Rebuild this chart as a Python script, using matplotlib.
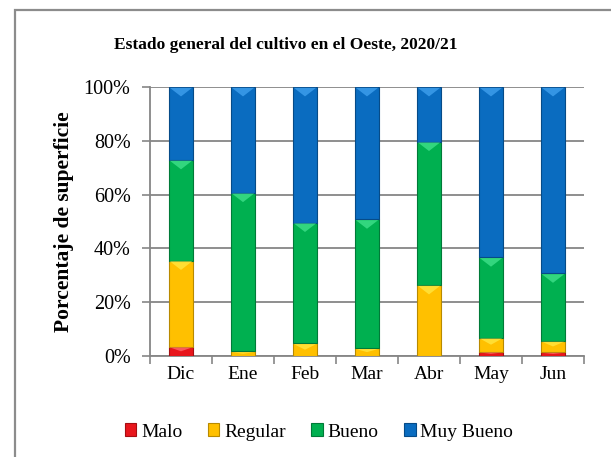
import matplotlib.pyplot as plt
import matplotlib.patches as mpatches
import numpy as np
from matplotlib.ticker import FuncFormatter, FixedLocator

meses = ["Dic", "Ene", "Feb", "Mar", "Abr", "May", "Jun"]
malo = [3.5, 0, 0, 0, 0, 1.6, 1.5]
regular = [32, 1.7, 4.7, 2.9, 26.4, 5.2, 4.1]
bueno = [37.4, 59, 44.9, 47.9, 53.3, 29.9, 25.1]
muy_bueno = [27.1, 39.3, 50.4, 49.2, 20.3, 63.3, 69.3]

series = ["Malo", "Regular", "Bueno", "Muy Bueno"]
colores = ["#E8161C", "#FFC000", "#00B050", "#0A6CC0"]
bordes = ["#A50E12", "#B88A00", "#007A38", "#064B88"]
brillos = ["#FF6A6A", "#FFE640", "#3FE08A", "#3FA0EE"]

plt.rcParams["font.family"] = ["Liberation Serif", "DejaVu Serif"]

fig = plt.figure(figsize=(6.11, 4.57), dpi=100)
ax = fig.add_axes([150 / 611, 1 - 356 / 457, 434 / 611, 269 / 457])

# marco del gráfico
fig.patches.append(mpatches.Rectangle((15 / 611, -0.1), 1.2, 1.1 - 10 / 457,
                                      transform=fig.transFigure, fill=False,
                                      edgecolor="#8c8c8c", linewidth=1.6))

x = np.arange(len(meses))
ancho = 0.4
base = np.zeros(len(meses))
for datos, nombre, col, borde, brillo in zip([malo, regular, bueno, muy_bueno],
                                             series, colores, bordes, brillos):
    datos = np.array(datos)
    ax.bar(x, datos, width=ancho, bottom=base, color=col, edgecolor=borde,
           linewidth=0.8, label=nombre, zorder=3)
    # bisel claro en la parte superior de cada segmento
    for xi, b, h in zip(x, base, datos):
        if h <= 0:
            continue
        d = min(3.5, h * 0.5)
        top = b + h
        ax.add_patch(mpatches.Polygon([(xi - ancho / 2 + 0.02, top - 0.3),
                                       (xi + ancho / 2 - 0.02, top - 0.3),
                                       (xi, top - d)],
                                      closed=True, facecolor=brillo,
                                      edgecolor="none", alpha=0.8, zorder=4))
    base = base + datos

ax.set_xlim(-0.5, len(meses) - 0.5)
ax.set_ylim(0, 100)
ax.set_yticks(range(0, 101, 20))
ax.yaxis.set_major_formatter(FuncFormatter(lambda v, p: f"{int(v)}%"))
ax.set_xticks(x)
ax.set_xticklabels(meses)
ax.xaxis.set_minor_locator(FixedLocator(np.arange(-0.5, len(meses), 1)))
ax.tick_params(axis="x", which="major", length=0, labelsize=14, pad=7)
ax.tick_params(axis="x", which="minor", length=6, color="#868686", width=1.2)
ax.tick_params(axis="y", length=6, color="#868686", width=1.2, labelsize=14.5, pad=8)

ax.grid(axis="y", color="#868686", linewidth=1.3, zorder=0)
ax.set_axisbelow(True)
for s in ["top", "right"]:
    ax.spines[s].set_visible(False)
for s in ["left", "bottom"]:
    ax.spines[s].set_color("#868686")
    ax.spines[s].set_linewidth(1.3)

ax.set_ylabel("Porcentaje de superficie", fontsize=15.5, fontweight="bold", labelpad=7)
fig.text(286 / 611, 1 - 45 / 457, "Estado general del cultivo en el Oeste, 2020/21",
         ha="center", va="center", fontsize=12.5, fontweight="bold")

ax.legend(loc="center", bbox_to_anchor=(319 / 611, 1 - 432 / 457),
          bbox_transform=fig.transFigure, ncol=4, frameon=False, fontsize=14,
          handlelength=0.6, handleheight=0.6, handletextpad=0.25, columnspacing=1.3)

fig.savefig("out.png", dpi=100)
